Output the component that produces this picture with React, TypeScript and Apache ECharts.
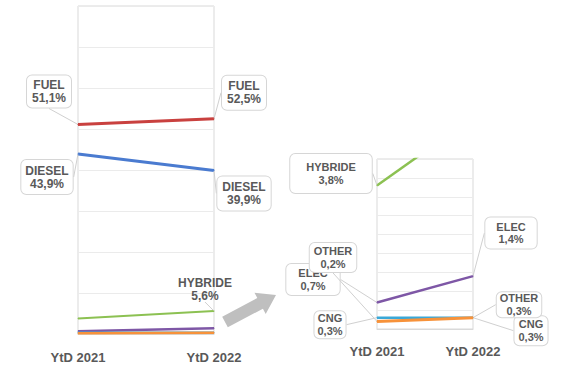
import React, { useEffect, useRef } from "react";
import * as echarts from "echarts";

const categories = ["YtD 2021", "YtD 2022"];
const seriesNames = ["FUEL", "DIESEL", "HYBRIDE", "ELEC", "CNG", "OTHER"];
const fuel = [51.1, 52.5];
const diesel = [43.9, 39.9];
const hybride = [3.8, 5.6];
const elec = [0.7, 1.4];
const cng = [0.3, 0.3];
const other = [0.2, 0.3];
const values = [fuel, diesel, hybride, elec, cng, other];

const colors = ["#c9413f", "#4a7bd0", "#8cc152", "#7e57a6", "#3aa8d8", "#f7923a"];
const leftWidths = [3, 3, 2, 2.5, 2.5, 2.5];
const rightWidths = [3, 3, 2.5, 2.5, 2.5, 3];

// label layout: key "seriesIndex-dataIndex" -> offset of box center from point, padding, boxed
type Spec = { dx: number; dy: number; pad: number[]; box: boolean };
const leftLabels: Record<string, Spec> = {
  "0-0": { dx: -29, dy: -33, pad: [3, 5], box: true },
  "0-1": { dx: 30, dy: -26, pad: [4, 5], box: true },
  "1-0": { dx: -31, dy: 23, pad: [4, 4], box: true },
  "1-1": { dx: 30, dy: 23, pad: [4, 5], box: true },
  "2-1": { dx: -9, dy: -22, pad: [0, 0], box: false },
};
const rightLabels: Record<string, Spec> = {
  "2-0": { dx: -46, dy: -12, pad: [7, 16], box: true },
  "3-1": { dx: 38, dy: -43, pad: [3, 11], box: true },
  "5-0": { dx: -44, dy: -64, pad: [2, 4], box: true },
  "3-0": { dx: -64, dy: -23, pad: [3, 12], box: true },
  "4-0": { dx: -47, dy: 7, pad: [1, 3], box: true },
  "5-1": { dx: 46, dy: -13, pad: [0, 3], box: true },
  "4-1": { dx: 58, dy: 13, pad: [2, 4], box: true },
};

const fmt = (v: number) => v.toFixed(1).replace(".", ",") + "%";

function buildSeries(gridIndex: number, specs: Record<string, Spec>, widths: number[], fontSize: number, lh: number) {
  return values.map((vals, si) => ({
    type: "line",
    name: seriesNames[si],
    xAxisIndex: gridIndex,
    yAxisIndex: gridIndex,
    symbol: "circle",
    symbolSize: 1,
    clip: true,
    silent: true,
    lineStyle: { color: colors[si], width: widths[si] },
    itemStyle: { color: colors[si] },
    z: 2 + si,
    data: vals.map((v, di) => {
      const spec = specs[`${si}-${di}`];
      if (!spec) return { value: v, label: { show: false } };
      return {
        value: v,
        label: {
          show: true,
          formatter: `${seriesNames[si]}\n${fmt(v)}`,
          fontFamily: "Liberation Sans, Arial, sans-serif",
          fontWeight: "bold",
          fontSize,
          lineHeight: lh,
          color: "#595959",
          align: "center",
          backgroundColor: spec.box ? "#ffffff" : "transparent",
          borderColor: spec.box ? "#d6d6d6" : "transparent",
          borderWidth: spec.box ? 1 : 0,
          borderRadius: 5,
          padding: spec.pad,
        },
      };
    }),
    labelLine: { show: true, lineStyle: { color: "#d0d0d0", width: 1 } },
    labelLayout: (params: any) => {
      const spec = specs[`${si}-${params.dataIndex}`];
      if (!spec) return {};
      const cx = params.rect.x + params.rect.width / 2;
      const cy = params.rect.y + params.rect.height / 2;
      return { x: cx + spec.dx, y: cy + spec.dy, align: "center", verticalAlign: "middle" };
    },
  }));
}

export default function App() {
  const ref = useRef<HTMLDivElement>(null);
  useEffect(() => {
    if (!ref.current) return;
    const chart = echarts.init(ref.current, null, { renderer: "svg" });
    const axisLabel = {
      fontFamily: "Liberation Sans, Arial, sans-serif",
      fontWeight: "bold",
      fontSize: 13,
      color: "#595959",
    };
    const xAxisBase = {
      type: "category",
      data: categories,
      boundaryGap: false,
      axisTick: { show: false },
      axisLine: { show: true, lineStyle: { color: "#d9d9d9" } },
      splitLine: { show: false },
    };
    const yAxisBase = {
      type: "value",
      min: 0,
      axisLabel: { show: false },
      axisTick: { show: false },
      axisLine: { show: false },
      splitLine: { show: true, lineStyle: { color: "#ebebeb", width: 1 } },
    };
    chart.setOption({
      animation: false,
      backgroundColor: "#ffffff",
      grid: [
        { left: 78, right: 353, top: 6, bottom: 45, show: true, borderColor: "#d9d9d9", borderWidth: 1 },
        { left: 377, right: 94, top: 159, bottom: 50, show: true, borderColor: "#d9d9d9", borderWidth: 1 },
      ],
      xAxis: [
        { ...xAxisBase, gridIndex: 0, axisLabel: { ...axisLabel, margin: 17 } },
        { ...xAxisBase, gridIndex: 1, axisLabel: { ...axisLabel, margin: 16 } },
      ],
      yAxis: [
        { ...yAxisBase, gridIndex: 0, max: 80, interval: 10 },
        { ...yAxisBase, gridIndex: 1, max: 4.5, interval: 0.5 },
      ],
      series: [
        ...buildSeries(0, leftLabels, leftWidths, 12, 13),
        ...buildSeries(1, rightLabels, rightWidths, 11, 12.5),
      ],
      graphic: [
        {
          type: "polygon",
          z: 10,
          shape: {
            points: [
              [222.2, 316.7],
              [257.3, 298.1],
              [254.5, 292.8],
              [276, 295],
              [265.7, 314.0],
              [262.9, 308.7],
              [227.8, 327.3],
            ],
          },
          style: { fill: "#bfbfbf" },
        },
      ],
    });
    return () => chart.dispose();
  }, []);
  return (
    <div
      ref={ref}
      style={{ position: "fixed", left: 0, top: 0, width: 567, height: 379 }}
    />
  );
}
